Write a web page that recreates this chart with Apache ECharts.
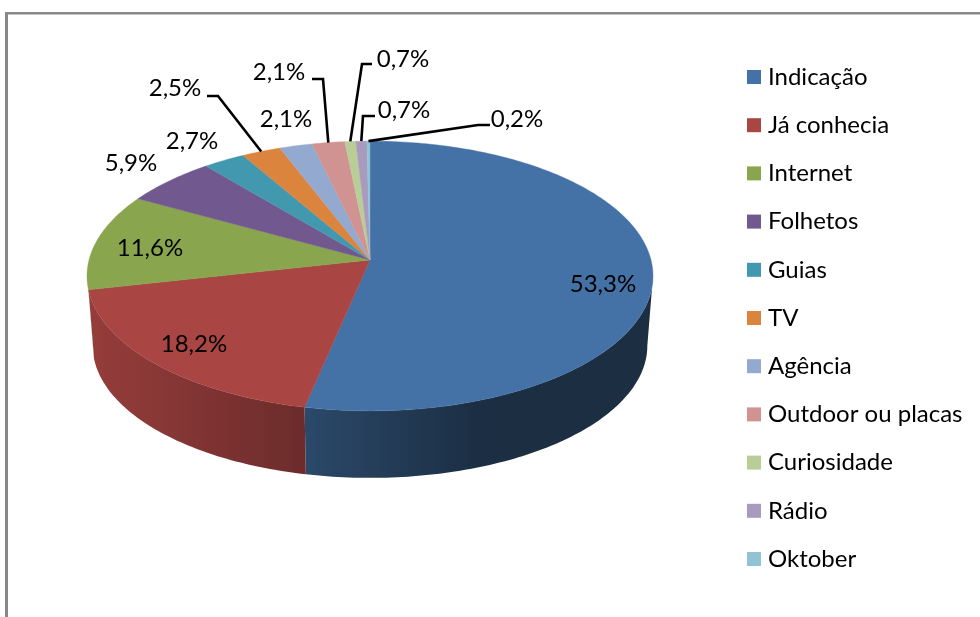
<!DOCTYPE html>
<html><head><meta charset="utf-8">
<script src="https://cdn.jsdelivr.net/npm/echarts@6/dist/echarts.min.js"></script>
<style>html,body{margin:0;padding:0;background:#fff}#c{width:980px;height:617px}</style>
</head><body><div id="c"></div>
<script>
var categories = ['Indicação','Já conhecia','Internet','Folhetos','Guias','TV','Agência','Outdoor ou placas','Curiosidade','Rádio','Oktober'];
var values = [53.3,18.2,11.6,5.9,2.7,2.5,2.1,2.1,0.7,0.7,0.2];
var colors = ['#4472A6','#A94543','#89A54E','#71588F','#4198AF','#DB843D','#93A9CF','#D19392','#B9CD96','#A99BBD','#92C3D5'];

// Layout of the 3D pie (not data)
var FONT = 'Lato';
var FS = 24;
var P = {cx:370, cy:260, rx:281, ry:133, k:0.1185, depth:70, shrink:0.98};
var labelPos = [[603,284],[194,344],[150,248],[131,163],[192,141],[175,88],[286,119],[279,72],[403,59],[404,110],[517,119]];
var leaderElbow = {5:[[207,96],[218,96]],7:[[312,79],[323,79]],8:[[372,64],[362,64]],9:[[375,116],[363,116]],10:[[490,125],[478,125]]};
var shadeX = [[90,.88],[304,.64],[480,.40],[653,.40]];

var total = values.reduce(function(a,b){return a+b},0);
function pt(deg, wall){
  var t = deg*Math.PI/180, u = Math.sin(t), v = -Math.cos(t), w = 1-P.k*v;
  var s = wall ? P.shrink : 1;
  return [P.cx + P.rx*s*u/w, P.cy + (wall?P.depth:0) + P.ry*s*v/w];
}
function arc(a,b,wall){var n=Math.max(2,Math.ceil(Math.abs(b-a)/1)),o=[];for(var i=0;i<=n;i++)o.push(pt(a+(b-a)*i/n,wall));return o;}
function shadeAt(x){
  for(var i=0;i<shadeX.length-1;i++){var A=shadeX[i],B=shadeX[i+1];
    if(x<=B[0]) return x<=A[0]?A[1]:A[1]+(B[1]-A[1])*(x-A[0])/(B[0]-A[0]);}
  return shadeX[shadeX.length-1][1];
}
function mul(hex,s){var n=parseInt(hex.slice(1),16);return 'rgb('+[(n>>16)&255,(n>>8)&255,n&255].map(function(c){return Math.round(c*s)}).join(',')+')';}
function fmt(v){return v.toFixed(1).replace('.',',')+'%';}

var VIS_A = 96.8, VIS_B = 258;
var start = 0;
var series = categories.map(function(name,i){
  var a = start/total*360, b = (start+values[i])/total*360; start += values[i];
  return {
    type:'custom', name:name, coordinateSystem:'none', data:[[values[i]]],
    itemStyle:{color:colors[i]}, silent:true, animation:false,
    renderItem:function(){
      var ch = [];
      var wa = Math.max(a,VIS_A), wb = Math.min(b,VIS_B);
      if(wb>wa){
        var topA = arc(wa,wb,false), botA = arc(wb,wa,true), poly = topA.concat(botA);
        var xs = poly.map(function(p){return p[0]}), x0=Math.min.apply(null,xs), x1=Math.max.apply(null,xs);
        var stops=[];
        for(var q=0;q<=8;q++){var f=q/8;stops.push({offset:f,color:mul(colors[i],shadeAt(x0+(x1-x0)*f))});}
        ch.push({type:'polygon',shape:{points:poly},style:{fill:{type:'linear',x:0,y:0,x2:1,y2:0,colorStops:stops}}});
      }
      var top = [[P.cx,P.cy]].concat(arc(a,b,false));
      ch.push({type:'polygon',shape:{points:top},style:{fill:colors[i],stroke:colors[i],lineWidth:0.4}});
      return {type:'group',children:ch};
    }
  };
});
// labels + leader lines drawn last, above all slices
var acc = 0;
var mids = values.map(function(v){var m=(acc+v/2)/total*360;acc+=v;return m;});
series.push({
  type:'custom', coordinateSystem:'none', data:values.map(function(v,i){return [i]}), silent:true, animation:false, z:5,
  renderItem:function(p,api){
    var i = api.value(0), ch=[];
    if(leaderElbow[i]){
      ch.push({type:'polyline',shape:{points:leaderElbow[i].concat([pt(mids[i],false)])},style:{fill:null,stroke:'#000',lineWidth:2.6}});
    }
    ch.push({type:'text',x:labelPos[i][0],y:labelPos[i][1],style:{text:fmt(values[i]),x:0,y:0,align:'center',verticalAlign:'middle',fill:'#000',font:FS+'px '+FONT}});
    return {type:'group',children:ch};
  }
});
var chart = echarts.init(document.getElementById('c'),null,{renderer:'canvas'});
chart.setOption({
  animation:false, backgroundColor:'#fff',
  legend:{orient:'vertical',left:742,top:58,icon:'rect',itemWidth:14,itemHeight:14,itemGap:20.2,selectedMode:false,
    data:categories,textStyle:{fontFamily:FONT,fontSize:FS,color:'#000',padding:[0,0,0,2],lineHeight:28}},
  graphic:[
    {type:'rect',shape:{x:5,y:13,width:3,height:604},style:{fill:'#888'}},
    {type:'rect',shape:{x:5,y:12,width:975,height:2.5},style:{fill:'#888'}}
  ],
  series:series
});
</script></body></html>
